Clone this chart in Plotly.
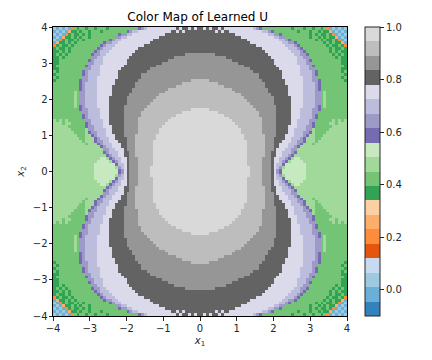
import plotly.graph_objects as go

# tab20c bands of the colour bar, bottom to top
band_colors = ["#3182bd", "#6baed6", "#9ecae1", "#c6dbef", "#e6550d", "#fd8d3c", "#fdae6b", "#fdd0a2",
               "#31a354", "#74c476", "#a1d99b", "#c7e9c0", "#756bb1", "#9e9ac8", "#bcbddc", "#dadaeb",
               "#636363", "#969696", "#bdbdbd", "#d9d9d9"]
u_levels = [-0.0725, -0.0175, 0.0375, 0.0925, 0.1475, 0.2025, 0.2575, 0.3125, 0.3675, 0.4225,
            0.4775, 0.5325, 0.5875, 0.6425, 0.6975, 0.7525, 0.8075, 0.8625, 0.9175, 0.9725]
u_min = -0.1
u_max = 1.0

x_centers = [-3.96, -3.88, -3.8, -3.72, -3.64, -3.56, -3.48, -3.4, -3.32, -3.24,
             -3.16, -3.08, -3.0, -2.92, -2.84, -2.76, -2.68, -2.6, -2.52, -2.44,
             -2.36, -2.28, -2.2, -2.12, -2.04, -1.96, -1.88, -1.8, -1.72, -1.64,
             -1.56, -1.48, -1.4, -1.32, -1.24, -1.16, -1.08, -1.0, -0.92, -0.84,
             -0.76, -0.68, -0.6, -0.52, -0.44, -0.36, -0.28, -0.2, -0.12, -0.04]

# outside the purple: band per cell, one string per row from |x2|=3.96 down to 0.04
# (base 20 band number, last char carries on up to the purple)
left_cells = [
    "21212159899899899989", "1212168898998999899", "212158988989899", "12168898989989",
    "2158988989899", "168898989", "5898898999", "89889899", "88989899",
    "898989", "88989", "8899", "889", "899", "889", "989",
    "899", "989", "899", "9", "9", "9",
    "9999999a9", "9999999a9", "9999999a9", "9999999a9", "9999999a9", "9999999a9",
    "9", "9", "9", "9",
    "a9a9a9", "aaa9aa9", "aaaaa9", "aaaaaa99999a", "aaaaaaa9999a", "aaaaaaaa999a",
    "aaaaaaaaa99a", "aaaaaaaaaa9a", "aaaaaaaaaaa9a", "a", "a", "a", "a",
    "aaaaaaaaaaaaaaaabba", "aaaaaaaaaaaaaaabbbba", "aaaaaaaaaaaaaabbbbbbba",
    "aaaaaaaaaaaaaabbbbbbba", "aaaaaaaaaaaaaabbbbbbbba",
]

# x1 where each band starts along a row, same rows as left_cells
start_12 = [-1.65, -1.98, -2.2, -2.35, -2.48, -2.6, -2.7, -2.78, -2.86, -2.93,
            -2.98, -3.03, -3.07, -3.1, -3.13, -3.17, -3.2, -3.22, -3.24, -3.26,
            -3.27, -3.28, -3.29, -3.29, -3.29, -3.29, -3.28, -3.26, -3.24, -3.22,
            -3.2, -3.17, -3.15, -3.11, -3.08, -3.05, -3.01, -2.95, -2.9, -2.85,
            -2.81, -2.75, -2.67, -2.6, -2.52, -2.45, -2.38, -2.32, -2.26, -2.2]
start_13 = [-1.6, -1.92, -2.15, -2.3, -2.43, -2.55, -2.65, -2.73, -2.81, -2.88,
            -2.93, -2.98, -3.02, -3.05, -3.08, -3.12, -3.15, -3.17, -3.19, -3.21,
            -3.22, -3.23, -3.24, -3.25, -3.25, -3.25, -3.24, -3.22, -3.2, -3.18,
            -3.15, -3.13, -3.1, -3.07, -3.03, -3.0, -2.95, -2.89, -2.83, -2.78,
            -2.73, -2.67, -2.6, -2.53, -2.45, -2.38, -2.32, -2.26, -2.2, -2.15]
start_14 = [-1.5, -1.8, -2.02, -2.17, -2.3, -2.42, -2.52, -2.6, -2.68, -2.75,
            -2.8, -2.85, -2.9, -2.93, -2.97, -3.0, -3.03, -3.05, -3.07, -3.09,
            -3.1, -3.11, -3.12, -3.13, -3.13, -3.13, -3.12, -3.1, -3.07, -3.05,
            -3.03, -3.0, -2.97, -2.93, -2.9, -2.87, -2.82, -2.77, -2.72, -2.67,
            -2.62, -2.57, -2.5, -2.44, -2.37, -2.31, -2.26, -2.2, -2.15, -2.1]
start_15 = [-1.4, -1.65, -1.85, -2.0, -2.12, -2.25, -2.35, -2.42, -2.5, -2.55,
            -2.6, -2.63, -2.66, -2.7, -2.72, -2.73, -2.75, -2.76, -2.77, -2.78,
            -2.78, -2.78, -2.78, -2.78, -2.78, -2.78, -2.77, -2.76, -2.74, -2.72,
            -2.71, -2.69, -2.66, -2.64, -2.61, -2.58, -2.55, -2.52, -2.48, -2.44,
            -2.4, -2.36, -2.31, -2.26, -2.21, -2.16, -2.12, -2.09, -2.06, -2.04]
start_16 = [-0.72, -0.78, -0.92, -1.08, -1.24, -1.38, -1.52, -1.68, -1.78, -1.85,
            -1.88, -1.96, -2.0, -2.05, -2.13, -2.2, -2.22, -2.27, -2.32, -2.35,
            -2.38, -2.4, -2.42, -2.43, -2.45, -2.46, -2.47, -2.47, -2.48, -2.48,
            -2.47, -2.46, -2.45, -2.44, -2.42, -2.39, -2.36, -2.32, -2.28, -2.24,
            -2.18, -2.13, -2.1, -2.07, -2.05, -2.03, -2.02, -2.01, -2.0, -2.0]
start_17 = [0, 0, 0, 0, 0, 0, 0, 0, 0, -0.4,
            -0.7, -0.9, -1.03, -1.17, -1.33, -1.45, -1.57, -1.62, -1.68, -1.74,
            -1.78, -1.82, -1.86, -1.9, -1.97, -2.0, -2.03, -2.05, -2.07, -2.08,
            -2.1, -2.1, -2.1, -2.1, -2.09, -2.08, -2.07, -2.05, -2.03, -2.02,
            -2.0, -1.98, -1.97, -1.95, -1.93, -1.92, -1.91, -1.9, -1.89, -1.88]
start_18 = [0, 0, 0, 0, 0, 0, 0, 0, 0, 0,
            0, 0, 0, 0, 0, 0, 0, 0, -0.25, -0.5,
            -0.67, -0.85, -0.98, -1.1, -1.2, -1.28, -1.36, -1.45, -1.55, -1.6,
            -1.63, -1.66, -1.68, -1.69, -1.7, -1.71, -1.71, -1.72, -1.73, -1.74,
            -1.74, -1.74, -1.74, -1.73, -1.72, -1.71, -1.7, -1.69, -1.68, -1.68]
start_19 = [0, 0, 0, 0, 0, 0, 0, 0, 0, 0,
            0, 0, 0, 0, 0, 0, 0, 0, 0, 0,
            0, 0, 0, 0, 0, 0, 0, 0, -0.2, -0.5,
            -0.65, -0.78, -0.9, -0.98, -1.04, -1.09, -1.14, -1.18, -1.22, -1.25,
            -1.27, -1.29, -1.3, -1.3, -1.31, -1.31, -1.31, -1.31, -1.32, -1.32]

# pale flecks in the dark band along the top edge: (row, column)
flecks = [(0, 41), (0, 43), (0, 46), (1, 42), (1, 44), (0, 48)]

rows = []
for k in range(50):
    row = []
    for i, x in enumerate(x_centers):
        if x < start_12[k]:
            s = left_cells[k]
            band = int(s[min(i, len(s) - 1)], 20)
        elif x < start_13[k]:
            band = 12
        elif x < start_14[k]:
            band = 13
        elif x < start_15[k]:
            band = 14
        elif x < start_16[k]:
            band = 15
        elif x < start_17[k]:
            band = 16
        elif x < start_18[k]:
            band = 17
        elif x < start_19[k]:
            band = 18
        else:
            band = 19
        if (k, i) in flecks:
            band = 15
        row.append(u_levels[band])
    rows.append(row + row[::-1])

z = rows + rows[::-1]
axis_vals = x_centers + [-v for v in x_centers[::-1]]

colorscale = []
for n, c in enumerate(band_colors):
    colorscale.append([n / 20, c])
    colorscale.append([(n + 1) / 20, c])

fig = go.Figure()
fig.add_trace(go.Heatmap(
    x=axis_vals, y=axis_vals, z=z, zmin=u_min, zmax=u_max,
    colorscale=colorscale, hoverinfo="skip",
    colorbar=dict(
        x=(365 - 48.5) / 298.5, xanchor="left", xpad=0, ypad=0, y=0.5, len=1, thickness=15,
        outlinewidth=1, outlinecolor="#262626", ticks="outside", ticklen=4, tickwidth=1,
        tickcolor="#262626", tickvals=[0, 0.2, 0.4, 0.6, 0.8, 1.0],
        ticktext=["0.0", "0.2", "0.4", "0.6", "0.8", "1.0"],
        tickfont=dict(size=10, color="#262626"))))

axis_style = dict(range=[-4, 4], tickvals=[-4, -3, -2, -1, 0, 1, 2, 3, 4], showgrid=False, zeroline=False,
                  showline=True, mirror=True, linecolor="black", linewidth=1, ticks="outside",
                  ticklen=3.5, tickwidth=1, tickcolor="#262626", tickfont=dict(size=10, color="#262626"),
                  ticklabelstandoff=-1)

# the page body adds 8px around the figure, so the figure is 8px smaller each way
fig.update_layout(
    width=424, height=352, autosize=False,
    margin=dict(l=40.5, r=85, t=19, b=44),
    paper_bgcolor="white", plot_bgcolor="white",
    font=dict(family="DejaVu Sans", color="#262626"),
    title=dict(text="Color Map of Learned U", x=189.7 / 424, xanchor="center",
               y=1 - 9 / 352, yanchor="middle", font=dict(size=12, color="black")),
    xaxis=dict(axis_style, title=dict(text="<i>x</i><sub>1</sub>", font=dict(size=10), standoff=4)),
    yaxis=dict(axis_style, title=dict(text="<i>x</i><sub>2</sub>", font=dict(size=10), standoff=6)),
)

fig.write_html("out.html")
